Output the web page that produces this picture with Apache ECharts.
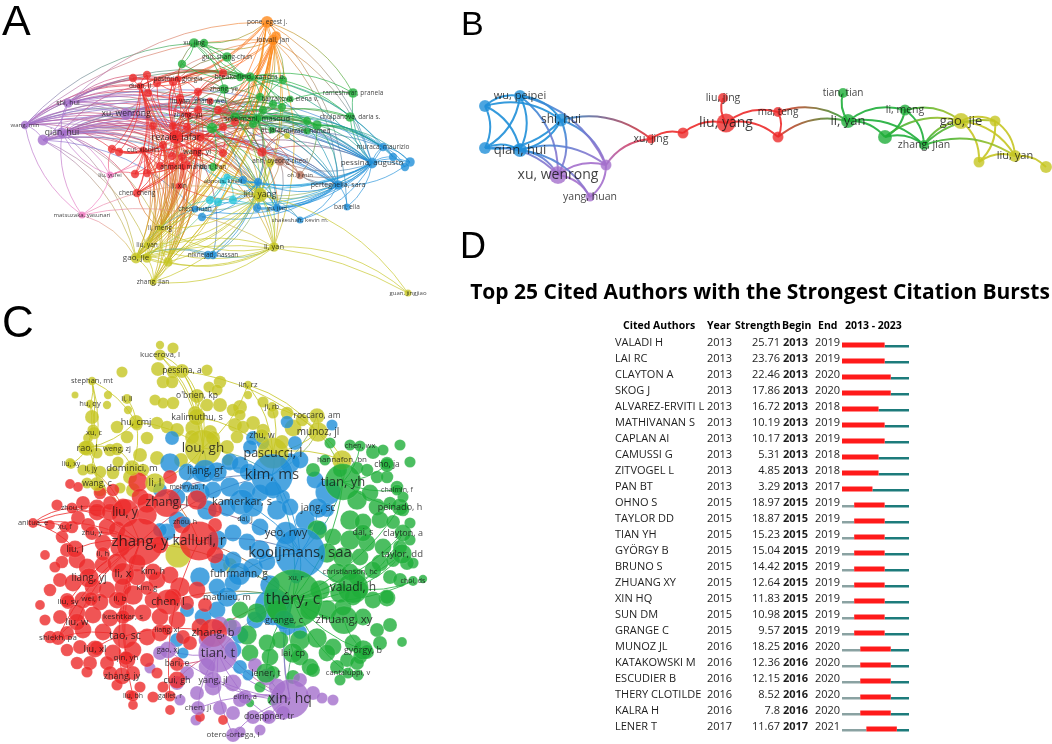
<!DOCTYPE html>
<html>
<head>
<meta charset="utf-8">
<title>Author networks and citation bursts</title>
<script src="https://cdn.jsdelivr.net/npm/echarts@6/dist/echarts.min.js"></script>
<style>
html, body { margin: 0; padding: 0; background: #fff; }
#main { width: 1052px; height: 744px; }
</style>
</head>
<body>
<div id="main"></div>
<script>
var myChart = echarts.init(document.getElementById('main'));

var clusterColors = {
    r: '#ec2a2a', g: '#1fae3a', b: '#1f8fd8', y: '#c5c522', p: '#a46fcc',
    o: '#ff8a1c', c: '#26c4d9', n: '#b87660', k: '#f07cc2'
};

// ---- panel A: co-authorship network  [name, x, y, size, cluster, labelSize]
var nodesA = [
    ['pone, egest j.', 267, 22, 10, 'o', 6.5], ['lotvall, jan', 273, 40, 9, 'o', 7], ['o1', 276, 36, 8, 'o', 0],
    ['xu, jing', 194, 43, 8, 'g', 6.5], ['g1', 204, 43, 7, 'g', 0], ['guo, shang-chun', 227, 57, 8, 'g', 6.5],
    ['g2', 182, 64, 7, 'g', 0], ['breakefield, xandra o.', 250, 77, 8, 'g', 7], ['g3', 240, 77, 7, 'g', 0],
    ['g4', 283, 80, 7, 'g', 0], ['zhang, ye', 224, 89, 8, 'g', 6.5], ['rameshwar, pranela', 353, 93, 8, 'g', 6.5],
    ['barrakova, elena v.', 290, 99, 6, 'g', 6.5], ['g5', 260, 97, 7, 'g', 0], ['g6', 273, 104, 7, 'g', 0],
    ['g7', 282, 107, 7, 'g', 0], ['g8', 263, 110, 7, 'g', 0], ['soleimani, masoud', 257, 119, 8, 'g', 7.5],
    ['g9', 235, 117, 8, 'g', 0], ['g10', 212, 128, 9, 'g', 0], ['g11', 253, 124, 7, 'g', 0],
    ['g12', 317, 125, 8, 'g', 0], ['g13', 307, 121, 7, 'g', 0], ['chulpanova, daria s.', 350, 117, 8, 'g', 6.5],
    ['ai, jafar', 272, 130, 6, 'g', 6.5], ['mirzaei, hamed', 307, 131, 6, 'g', 6.5], ['tian, tian', 213, 167, 7, 'g', 6.5],
    ['r1', 147, 75, 7, 'r', 0], ['r2', 157, 83, 7, 'r', 0], ['r3', 173, 82, 7, 'r', 0], ['r4', 133, 78, 7, 'r', 0],
    ['r5', 148, 93, 7, 'r', 0], ['r6', 223, 73, 7, 'r', 0], ['r7', 198, 92, 7, 'r', 0], ['r8', 180, 98, 7, 'r', 0],
    ['r9', 198, 110, 7, 'r', 0], ['r10', 218, 110, 7, 'r', 0], ['r11', 153, 126, 7, 'r', 0], ['r12', 173, 126, 7, 'r', 0],
    ['r13', 187, 127, 7, 'r', 0], ['r14', 200, 137, 8, 'r', 0], ['r15', 223, 127, 7, 'r', 0], ['r16', 235, 122, 7, 'r', 0],
    ['r17', 112, 149, 7, 'r', 0], ['r18', 119, 152, 7, 'r', 0], ['r19', 163, 145, 7, 'r', 0], ['r20', 172, 156, 7, 'r', 0],
    ['r21', 182, 157, 7, 'r', 0], ['r22', 223, 153, 7, 'r', 0], ['r23', 262, 152, 8, 'r', 0], ['r24', 160, 166, 7, 'r', 0],
    ['r25', 172, 166, 7, 'r', 0], ['r26', 187, 165, 7, 'r', 0], ['r27', 135, 174, 7, 'r', 0], ['r28', 147, 173, 7, 'r', 0],
    ['pastorin, giorgia', 178, 79, 6, 'r', 6.5], ['duan, li', 140, 86, 6, 'r', 6.5], ['liu,yan', 180, 101, 6, 'r', 6.5],
    ['zhang, wei', 210, 101, 6, 'r', 6.5], ['zhang, yu', 188, 115, 6, 'r', 6.5], ['rezaie, jafar', 176, 137, 12, 'r', 9],
    ['cui, xiaolin', 143, 150, 6, 'r', 6.5], ['wang, yi', 197, 152, 8, 'r', 7.5], ['ahmadi, mahdi', 183, 167, 6, 'r', 6.5],
    ['chen, cheng', 137, 193, 7, 'r', 6.5], ['li, xin', 179, 186, 6, 'r', 6.5],
    ['liu, yang', 260, 195, 12, 'y', 8.5], ['y1', 270, 163, 7, 'y', 0], ['li, meng', 160, 228, 6, 'y', 6.5],
    ['liu, yan', 147, 245, 6, 'y', 6.5], ['gao, jie', 136, 258, 9, 'y', 8], ['y2', 147, 258, 8, 'y', 0],
    ['y3', 168, 262, 8, 'y', 0], ['zhang, jian', 153, 282, 6, 'y', 6.5], ['li, yan', 274, 247, 8, 'y', 7.5],
    ['guan, jingjiao', 408, 293, 6, 'y', 6], ['y4', 287, 136, 5, 'y', 0],
    ['xu, wenrong', 126, 114, 10, 'p', 8.5], ['shi, hui', 68, 103, 8, 'p', 7], ['wang, min', 25, 125, 7, 'p', 6],
    ['qian, hui', 62, 133, 9, 'p', 8.5], ['p1', 43, 140, 9, 'p', 0],
    ['liu, yufei', 110, 175, 6, 'k', 6], ['matsuzaka, yasunari', 82, 215, 6, 'k', 6],
    ['ahn, byeong-cheol', 280, 161, 8, 'n', 6.5], ['oh, ji min', 300, 175, 7, 'n', 6],
    ['abnous, khalil', 223, 181, 6, 'c', 6], ['c1', 227, 177, 6, 'c', 0], ['c2', 210, 200, 7, 'c', 0],
    ['c3', 218, 202, 7, 'c', 0], ['c4', 233, 200, 7, 'c', 0],
    ['muraca, maurizio', 383, 147, 7, 'b', 6.5], ['pessina, augusto', 372, 163, 9, 'b', 8], ['b1', 410, 162, 8, 'b', 0],
    ['b2', 405, 167, 7, 'b', 0], ['b3', 393, 157, 7, 'b', 0], ['perteghella, sara', 338, 185, 8, 'b', 7],
    ['bari, elia', 347, 207, 6, 'b', 6.5], ['shakeshaft, kevin m.', 300, 220, 6, 'b', 6], ['gu, jian', 277, 208, 7, 'b', 6],
    ['b4', 258, 182, 7, 'b', 0], ['b5', 257, 208, 7, 'b', 0], ['b6', 243, 180, 7, 'b', 0],
    ['chen, huan', 195, 209, 6, 'b', 6.5], ['b8', 202, 217, 7, 'b', 0], ['niknejad, hassan', 213, 255, 7, 'b', 6.5],
    ['b7', 208, 255, 7, 'b', 0]
];

// hub -> co-authors
var hubsA = [
    ['wang, min', ['shi, hui', 'qian, hui', 'p1', 'xu, wenrong', 'duan, li', 'pastorin, giorgia', 'rezaie, jafar', 'zhang, yu', 'soleimani, masoud', 'xu, jing', 'wang, yi', 'liu, yang', 'pessina, augusto', 'perteghella, sara', 'lotvall, jan', 'r5', 'r11', 'r17', 'r19', 'g10', 'breakefield, xandra o.', 'muraca, maurizio']],
    ['qian, hui', ['shi, hui', 'p1', 'xu, wenrong', 'duan, li', 'rezaie, jafar', 'r12', 'r14', 'r20', 'r24', 'wang, yi', 'cui, xiaolin', 'chen, cheng', 'liu, yang', 'pessina, augusto', 'perteghella, sara', 'soleimani, masoud', 'g9', 'g10', 'ahn, byeong-cheol', 'oh, ji min', 'abnous, khalil', 'gao, jie', 'li, meng', 'liu, yufei']],
    ['shi, hui', ['xu, wenrong', 'p1', 'duan, li', 'pastorin, giorgia', 'r1', 'r3', 'r8', 'zhang, yu', 'rezaie, jafar', 'soleimani, masoud', 'breakefield, xandra o.', 'pone, egest j.', 'pessina, augusto', 'muraca, maurizio', 'r16', 'r23', 'liu, yang']],
    ['p1', ['xu, wenrong', 'rezaie, jafar', 'r13', 'r21', 'r25', 'wang, yi', 'liu, yang', 'perteghella, sara', 'gao, jie', 'liu, yan', 'chen, huan', 'abnous, khalil', 'y1']],
    ['xu, wenrong', ['rezaie, jafar', 'r9', 'r10', 'r15', 'zhang, yu', 'soleimani, masoud', 'pessina, augusto', 'perteghella, sara', 'liu, yang', 'gu, jian', 'b4', 'lotvall, jan', 'r22', 'g12']],
    ['lotvall, jan', ['pone, egest j.', 'o1', 'gao, jie', 'y2', 'y3', 'li, meng', 'liu, yan', 'zhang, jian', 'rezaie, jafar', 'duan, li', 'r4', 'chen, cheng', 'liu, yang', 'li, yan', 'pessina, augusto', 'perteghella, sara', 'liu, yufei', 'soleimani, masoud', 'g4', 'xu, jing']],
    ['pone, egest j.', ['o1', 'gao, jie', 'y2', 'li, meng', 'liu, yan', 'wang, min', 'duan, li', 'r2', 'r7', 'liu, yang', 'chen, cheng', 'pessina, augusto', 'bari, elia', 'rameshwar, pranela', 'g1']],
    ['o1', ['gao, jie', 'liu, yan', 'y3', 'rezaie, jafar', 'r28', 'chen, cheng', 'li, xin']],
    ['rezaie, jafar', ['r1', 'r2', 'r3', 'r6', 'r7', 'r8', 'r9', 'r11', 'r12', 'r13', 'r14', 'r19', 'r20', 'r21', 'r24', 'r25', 'r26', 'wang, yi', 'zhang, yu', 'duan, li', 'pastorin, giorgia', 'soleimani, masoud', 'g10', 'g5', 'g8', 'liu, yang', 'pessina, augusto', 'perteghella, sara', 'gao, jie', 'li, meng', 'liu, yan', 'y3', 'ahn, byeong-cheol', 'r23', 'g12', 'chulpanova, daria s.', 'li, yan']],
    ['wang, yi', ['r15', 'r16', 'r22', 'r23', 'r26', 'r27', 'r28', 'ahmadi, mahdi', 'liu, yang', 'gao, jie', 'y2', 'li, meng', 'zhang, jian', 'cui, xiaolin', 'g12', 'g13', 'muraca, maurizio', 'pessina, augusto', 'gu, jian', 'niknejad, hassan']],
    ['duan, li', ['r4', 'r5', 'r1', 'r17', 'r18', 'cui, xiaolin', 'chen, cheng', 'r27', 'r28', 'gao, jie', 'liu, yan', 'li, meng', 'y3', 'r6', 'g3', 'breakefield, xandra o.']],
    ['r10', ['g4', 'g6', 'g7', 'g11', 'g12', 'barrakova, elena v.', 'r23', 'ahn, byeong-cheol', 'oh, ji min', 'pessina, augusto', 'perteghella, sara', 'liu, yang', 'r22']],
    ['r14', ['r22', 'r23', 'g12', 'ai, jafar', 'mirzaei, hamed', 'liu, yang', 'li, yan', 'b4', 'gao, jie', 'zhang, jian', 'cui, xiaolin', 'r17']],
    ['r12', ['r1', 'r3', 'r8', 'r9', 'r13', 'r19', 'r20', 'r24', 'g9', 'g10', 'zhang, ye', 'gao, jie', 'y2', 'li, meng', 'liu, yang', 'soleimani, masoud']],
    ['r19', ['r11', 'r17', 'r18', 'r27', 'r28', 'cui, xiaolin', 'gao, jie', 'y2', 'y3', 'liu, yan', 'zhang, jian', 'li, meng', 'chen, cheng']],
    ['zhang, yu', ['r9', 'r13', 'r7', 'r3', 'r15', 'g9', 'g10', 'gao, jie', 'liu, yan', 'zhang, jian', 'liu, yang', 'pessina, augusto']],
    ['r7', ['r6', 'r2', 'r5', 'zhang, ye', 'g3', 'g5', 'breakefield, xandra o.', 'soleimani, masoud', 'li, meng', 'y3', 'gao, jie']],
    ['cui, xiaolin', ['r17', 'r18', 'r27', 'r28', 'chen, cheng', 'gao, jie', 'liu, yan', 'li, meng', 'zhang, jian', 'y2', 'y3', 'liu, yufei']],
    ['r23', ['g11', 'g12', 'g13', 'ahn, byeong-cheol', 'oh, ji min', 'liu, yang', 'y1', 'b4', 'li, yan', 'pessina, augusto', 'perteghella, sara']],
    ['pastorin, giorgia', ['r6', 'g2', 'guo, shang-chun', 'xu, jing', 'breakefield, xandra o.', 'g3', 'zhang, ye', 'r7', 'r8', 'gao, jie', 'y3']],
    ['r21', ['r24', 'r25', 'chen, cheng', 'li, xin', 'gao, jie', 'liu, yan', 'li, meng', 'y3', 'zhang, jian', 'liu, yang', 'ahmadi, mahdi']],
    ['soleimani, masoud', ['g5', 'g6', 'g7', 'g8', 'g9', 'g11', 'g12', 'g13', 'mirzaei, hamed', 'ai, jafar', 'breakefield, xandra o.', 'g4', 'barrakova, elena v.', 'pessina, augusto', 'muraca, maurizio', 'perteghella, sara', 'chulpanova, daria s.', 'rameshwar, pranela', 'liu, yang', 'b4', 'r23']],
    ['breakefield, xandra o.', ['g3', 'g4', 'guo, shang-chun', 'xu, jing', 'g1', 'g2', 'zhang, ye', 'g5', 'g6', 'g7', 'pessina, augusto', 'muraca, maurizio', 'rameshwar, pranela', 'chulpanova, daria s.', 'b3', 'perteghella, sara']],
    ['g9', ['g5', 'g8', 'g11', 'r16', 'zhang, ye', 'liu, yang', 'pessina, augusto', 'perteghella, sara', 'muraca, maurizio', 'li, yan', 'gu, jian']],
    ['g10', ['tian, tian', 'zhang, ye', 'r16', 'liu, yang', 'gu, jian', 'b6', 'pessina, augusto', 'g12', 'li, yan']],
    ['xu, jing', ['g1', 'guo, shang-chun', 'g2', 'zhang, ye', 'g3', 'r6']],
    ['g12', ['g13', 'mirzaei, hamed', 'pessina, augusto', 'b1', 'b2', 'b3', 'perteghella, sara', 'muraca, maurizio', 'oh, ji min']],
    ['pessina, augusto', ['muraca, maurizio', 'b1', 'b2', 'b3', 'perteghella, sara', 'bari, elia', 'gu, jian', 'b4', 'b5', 'b6', 'liu, yang', 'chulpanova, daria s.', 'rameshwar, pranela', 'shakeshaft, kevin m.', 'oh, ji min', 'ahn, byeong-cheol', 'abnous, khalil', 'c1', 'c3']],
    ['muraca, maurizio', ['b1', 'b2', 'b3', 'perteghella, sara']],
    ['b1', ['b2', 'b3', 'perteghella, sara']],
    ['perteghella, sara', ['bari, elia', 'b4', 'b5', 'gu, jian', 'liu, yang', 'ahn, byeong-cheol', 'oh, ji min', 'shakeshaft, kevin m.', 'c4', 'chen, huan', 'b8']],
    ['b4', ['b5', 'b6', 'gu, jian', 'liu, yang', 'c1', 'c4', 'chen, huan', 'b8', 'niknejad, hassan', 'b7']],
    ['gu, jian', ['b5', 'shakeshaft, kevin m.', 'liu, yang', 'b6']],
    ['c1', ['abnous, khalil', 'c2', 'c3', 'c4', 'liu, yang', 'b6', 'gao, jie', 'li, meng']],
    ['c3', ['c2', 'c4', 'chen, huan', 'liu, yang']],
    ['liu, yang', ['y1', 'li, yan', 'gao, jie', 'y2', 'y3', 'li, meng', 'liu, yan', 'zhang, jian', 'niknejad, hassan', 'shakeshaft, kevin m.', 'guan, jingjiao', 'chen, huan', 'b5', 'abnous, khalil', 'ahmadi, mahdi', 'li, xin']],
    ['gao, jie', ['y2', 'y3', 'li, meng', 'liu, yan', 'zhang, jian', 'li, yan', 'niknejad, hassan', 'b7', 'chen, huan', 'guan, jingjiao']],
    ['li, yan', ['guan, jingjiao', 'y3', 'zhang, jian', 'liu, yan', 'li, meng', 'niknejad, hassan', 'y2']],
    ['y3', ['zhang, jian', 'li, meng', 'y2']],
    ['y2', ['zhang, jian', 'liu, yan', 'li, meng']],
    ['li, meng', ['liu, yan', 'zhang, jian', 'chen, cheng', 'c2']],
    ['liu, yufei', ['matsuzaka, yasunari', 'qian, hui', 'r27', 'r17']],
    ['matsuzaka, yasunari', ['wang, min', 'qian, hui', 'gao, jie', 'li, yan', 'liu, yang']],
    ['ahn, byeong-cheol', ['oh, ji min', 'liu, yang', 'y1', 'gu, jian']]
];

// ---- panel B: collaboration chain
var nodesB = [
    ['bb1', 485, 106, 12, 'b', 0], ['wu, peipei', 520, 96, 12, 'b', 11], ['shi, hui', 561, 120, 13, 'b', 12],
    ['bb2', 485, 148, 12, 'b', 0], ['qian, hui', 520, 150, 14, 'b', 13],
    ['xu, wenrong', 558, 175, 18, 'p', 14], ['bp1', 606, 165, 11, 'p', 0], ['yang, huan', 590, 197, 9, 'p', 10.5],
    ['xu, jing', 651, 139, 9, 'r', 10.5], ['br1', 683, 133, 11, 'r', 0], ['liu, jing', 723, 98, 10, 'r', 10.5],
    ['liu, yang', 726, 123, 19, 'r', 14], ['ma, teng', 778, 112, 10, 'r', 10], ['br2', 778, 137, 11, 'r', 0],
    ['tian, tian', 843, 93, 10, 'g', 10], ['li, yan', 848, 121, 14, 'g', 13], ['li, meng', 905, 110, 11, 'g', 10.5],
    ['bg1', 885, 137, 14, 'g', 0], ['zhang, jian', 924, 145, 10, 'g', 10.5],
    ['gao, jie', 961, 121, 16, 'y', 13], ['by1', 995, 121, 11, 'y', 0], ['by2', 979, 162, 11, 'y', 0],
    ['liu, yan', 1015, 156, 12, 'y', 11], ['by3', 1046, 167, 12, 'y', 0]
];
var linksB = [
    ['bb1', 'wu, peipei'], ['bb1', 'shi, hui'], ['bb1', 'bb2'], ['bb1', 'qian, hui'], ['wu, peipei', 'shi, hui'],
    ['wu, peipei', 'bb2'], ['wu, peipei', 'qian, hui'], ['shi, hui', 'bb2'], ['shi, hui', 'qian, hui'], ['bb2', 'qian, hui'],
    ['wu, peipei', 'xu, wenrong'], ['shi, hui', 'xu, wenrong'], ['qian, hui', 'xu, wenrong'], ['bb2', 'xu, wenrong'],
    ['shi, hui', 'bp1'], ['qian, hui', 'bp1'], ['wu, peipei', 'bp1'], ['xu, wenrong', 'bp1'], ['xu, wenrong', 'yang, huan'],
    ['bp1', 'yang, huan'], ['qian, hui', 'yang, huan'], ['shi, hui', 'xu, jing'], ['bp1', 'xu, jing'],
    ['xu, jing', 'br1'], ['br1', 'liu, yang'], ['liu, yang', 'liu, jing'], ['liu, yang', 'ma, teng'], ['liu, yang', 'br2'],
    ['ma, teng', 'br2'], ['ma, teng', 'li, yan'], ['br2', 'li, yan'], ['li, yan', 'tian, tian'], ['li, yan', 'li, meng'],
    ['li, yan', 'bg1'], ['li, yan', 'zhang, jian'], ['li, meng', 'bg1'], ['li, meng', 'zhang, jian'], ['bg1', 'zhang, jian'],
    ['li, meng', 'gao, jie'], ['zhang, jian', 'gao, jie'], ['bg1', 'gao, jie'], ['gao, jie', 'by1'], ['gao, jie', 'by2'],
    ['gao, jie', 'liu, yan'], ['by1', 'by2'], ['by1', 'liu, yan'], ['by2', 'liu, yan'], ['liu, yan', 'by3'],
    ['zhang, jian', 'liu, yan'], ['zhang, jian', 'by1']
];

// ---- panel C: co-citation network, labelled authors [name, x, y, size, cluster, labelSize]
var authorsC = [
    ['kucerova, l', 160, 355, 8, 'y', 8], ['pessina, a', 182, 371, 10, 'y', 8.5], ['stephan, mt', 92, 381, 6, 'y', 7.5],
    ['lin, rz', 248, 385, 6, 'y', 7.5], ["o'brien, kp", 197, 396, 10, 'y', 8.5], ['li, ll', 127, 399, 7, 'y', 7.5],
    ['hu, qy', 90, 404, 6, 'y', 7.5], ['ji, rb', 272, 407, 7, 'y', 7], ['kalimuthu, s', 197, 417, 12, 'y', 9],
    ['hu, cmj', 136, 422, 10, 'y', 9], ['roccaro, am', 317, 416, 11, 'y', 8.5], ['xu, c', 94, 433, 9, 'y', 7.5],
    ['munoz, jl', 318, 432, 14, 'y', 10], ['zhu, w', 262, 436, 10, 'y', 8.5], ['rao, l', 87, 448, 11, 'y', 9],
    ['weng, zj', 117, 449, 9, 'y', 7.5], ['lou, gh', 203, 448, 26, 'y', 13.5], ['pascucci, l', 273, 453, 22, 'y', 12.5],
    ['hannafon, bn', 342, 460, 14, 'y', 8], ['liu, xy', 71, 464, 7, 'y', 7], ['li, jy', 91, 469, 8, 'y', 7],
    ['dominici, m', 132, 468, 11, 'y', 9.5], ['wang, c', 97, 484, 10, 'y', 8.5], ['li, l', 155, 483, 14, 'y', 10],
    ['liang, gf', 205, 471, 16, 'b', 10], ['kim, ms', 272, 475, 30, 'b', 15], ['mehryab, f', 187, 487, 8, 'b', 7],
    ['kamerkar, s', 242, 502, 18, 'b', 11], ['jang, sc', 318, 508, 14, 'b', 10], ['dai, j', 245, 519, 8, 'b', 7],
    ['zhou, h', 185, 522, 8, 'b', 7], ['yeo, rwy', 286, 533, 16, 'b', 11], ['kooijmans, saa', 300, 553, 36, 'b', 15],
    ['fuhrmann, g', 239, 574, 16, 'b', 10], ['xu, r', 296, 578, 8, 'b', 7.5], ['mathieu, m', 227, 597, 14, 'b', 9],
    ['grange, c', 284, 620, 14, 'b', 9],
    ['chen, wx', 360, 446, 8, 'g', 7.5], ['cho, ja', 387, 465, 10, 'g', 8.5], ['tian, yh', 343, 482, 26, 'g', 13],
    ['chalmin, f', 397, 490, 8, 'g', 7], ['peinado, h', 400, 507, 12, 'g', 9], ['dai, s', 363, 533, 12, 'g', 8.5],
    ['clayton, a', 403, 533, 12, 'g', 9], ['taylor, dd', 402, 554, 14, 'g', 9.5], ['christianson, hc', 350, 572, 12, 'g', 7.5],
    ['choi, ds', 413, 581, 7, 'g', 7], ['valadi, h', 353, 588, 22, 'g', 12], ['théry, c', 293, 599, 42, 'g', 16],
    ['zhuang, xy', 344, 620, 20, 'g', 11.5], ['lai, cp', 293, 653, 14, 'g', 9], ['györgy, b', 363, 650, 14, 'g', 9],
    ['cantaluppi, v', 348, 673, 8, 'g', 7.5], ['lener, t', 266, 673, 14, 'g', 9],
    ['zhou, t', 72, 508, 8, 'r', 7], ['liu, y', 125, 513, 20, 'r', 12], ['anitua, e', 33, 523, 7, 'r', 7.5],
    ['xu, f', 65, 527, 8, 'r', 7], ['zhu, y', 92, 533, 10, 'r', 7.5], ['zhang, l', 167, 503, 20, 'r', 12],
    ['zhang, y', 140, 542, 34, 'r', 15], ['kalluri, r', 199, 541, 28, 'r', 14], ['liu, l', 75, 549, 12, 'r', 9],
    ['li, h', 103, 554, 10, 'r', 7.5], ['liang, yj', 89, 578, 14, 'r', 10], ['li, x', 123, 574, 16, 'r', 11],
    ['kim, h', 153, 572, 12, 'r', 8.5], ['kim, g', 147, 588, 10, 'r', 7.5], ['liu, sy', 68, 602, 10, 'r', 8],
    ['wei, f', 91, 599, 10, 'r', 8], ['li, b', 120, 599, 10, 'r', 8], ['chen, l', 168, 602, 18, 'r', 11],
    ['keshtkar, s', 123, 617, 10, 'r', 8], ['liu, w', 77, 622, 12, 'r', 9.5], ['liang, xl', 167, 630, 8, 'r', 7],
    ['zhang, b', 213, 633, 20, 'r', 11], ['tao, sc', 125, 636, 18, 'r', 10.5], ['shiekh, pa', 58, 638, 10, 'r', 8],
    ['liu, xl', 95, 649, 12, 'r', 9.5], ['qin, yh', 126, 658, 10, 'r', 8], ['bari, e', 177, 664, 10, 'r', 8.5],
    ['zhang, jy', 122, 676, 12, 'r', 9], ['cui, gh', 177, 680, 12, 'r', 9], ['liu, bh', 133, 696, 8, 'r', 7],
    ['gallet, r', 170, 696, 8, 'r', 7],
    ['gao, xj', 168, 650, 12, 'p', 7.5], ['tian, t', 218, 653, 28, 'p', 13], ['yang, jl', 213, 680, 12, 'p', 9],
    ['eirin, a', 245, 697, 10, 'p', 7.5], ['xin, hq', 290, 699, 28, 'p', 14], ['chen, jl', 198, 708, 10, 'p', 8],
    ['doeppner, tr', 269, 717, 10, 'p', 8.5], ['otero-ortega, l', 233, 735, 10, 'p', 8]
];

// unlabelled cited authors [x, y, size, cluster]
var dotsC = [
    [173,348,8,'y'],[122,372,8,'y'],[158,369,10,'y'],[173,372,9,'y'],[207,370,8,'y'],[163,382,9,'y'],[172,382,9,'y'],
    [220,382,9,'y'],[209,387,8,'y'],[217,390,8,'y'],[155,400,8,'y'],[163,403,8,'y'],[173,403,9,'y'],[207,405,9,'y'],
    [220,405,10,'y'],[240,407,10,'y'],[263,402,8,'y'],[273,413,8,'y'],[92,417,10,'y'],[107,405,6,'y'],[195,413,10,'y'],
    [233,410,9,'y'],[240,415,8,'y'],[117,427,9,'y'],[137,425,8,'y'],[157,423,9,'y'],[167,427,9,'y'],[177,430,10,'y'],
    [193,428,11,'y'],[210,432,10,'y'],[235,425,10,'y'],[243,427,9,'y'],[253,423,10,'y'],[263,430,9,'y'],[287,413,9,'y'],
    [293,428,12,'y'],[93,430,8,'y'],[88,438,7,'y'],[127,437,9,'y'],[147,438,9,'y'],[192,437,10,'y'],[213,438,10,'y'],
    [85,448,10,'y'],[97,453,8,'y'],[110,450,9,'y'],[118,462,8,'y'],[140,455,10,'y'],[157,458,10,'y'],[227,447,10,'y'],
    [237,437,9,'y'],[70,463,7,'y'],[83,470,8,'y'],[100,472,9,'y'],[113,473,9,'y'],[130,477,10,'y'],[143,470,9,'y'],
    [133,490,10,'y'],[120,488,8,'y'],[100,490,9,'y'],[87,483,8,'y'],[230,565,10,'y'],[181,460,10,'y'],
    [228,460,8,'y'],[160,345,6,'y'],[108,395,6,'y'],[75,395,5,'y'],[248,395,6,'y'],[302,420,9,'y'],[282,442,10,'y'],[128,410,6,'y'],
    [172,438,10,'b'],[253,438,10,'b'],[263,443,9,'b'],[250,447,10,'b'],[287,422,9,'b'],[332,425,8,'b'],[295,443,10,'b'],
    [170,463,14,'b'],[187,472,12,'b'],[200,473,12,'b'],[217,472,14,'b'],[230,462,12,'b'],[240,465,12,'b'],[248,472,12,'b'],
    [290,463,14,'b'],[300,460,12,'b'],[200,493,14,'b'],[213,490,12,'b'],[230,487,14,'b'],[247,490,12,'b'],[260,493,12,'b'],
    [273,490,12,'b'],[283,497,10,'b'],[177,497,12,'b'],[160,490,10,'b'],[207,510,14,'b'],[227,508,12,'b'],[253,507,14,'b'],
    [277,510,14,'b'],[290,507,12,'b'],[328,492,18,'b'],[327,510,10,'b'],[167,532,12,'b'],[177,520,12,'b'],[217,540,14,'b'],
    [233,533,12,'b'],[247,542,12,'b'],[260,527,12,'b'],[220,563,14,'b'],[233,560,12,'b'],[253,568,14,'b'],[267,562,12,'b'],
    [200,577,14,'b'],[217,587,12,'b'],[233,583,12,'b'],[273,607,26,'b'],[187,610,10,'b'],[203,617,12,'b'],[217,610,12,'b'],
    [287,627,12,'b'],[300,632,10,'b'],[233,650,12,'b'],[240,667,10,'b'],[248,675,8,'b'],[177,640,10,'b'],[183,653,8,'b'],
    [160,530,10,'b'],[315,480,12,'b'],[305,520,14,'b'],[320,528,10,'b'],[260,550,14,'b'],[270,585,14,'b'],[255,620,12,'b'],
    [240,635,12,'b'],
    [330,443,8,'g'],[350,445,8,'g'],[373,452,10,'g'],[383,450,8,'g'],[400,445,8,'g'],[340,470,10,'g'],[357,468,9,'g'],
    [367,470,9,'g'],[387,463,9,'g'],[410,462,8,'g'],[377,477,9,'g'],[387,477,9,'g'],[397,487,9,'g'],[403,497,8,'g'],
    [357,500,14,'g'],[370,493,12,'g'],[377,507,12,'g'],[390,503,9,'g'],[403,510,9,'g'],[350,520,14,'g'],[363,522,12,'g'],
    [380,520,12,'g'],[393,522,10,'g'],[410,523,8,'g'],[317,530,14,'g'],[333,537,12,'g'],[350,540,14,'g'],[367,543,12,'g'],
    [383,547,12,'g'],[400,547,10,'g'],[410,540,8,'g'],[413,563,8,'g'],[327,553,14,'g'],[343,557,14,'g'],[360,557,12,'g'],
    [380,563,12,'g'],[393,560,10,'g'],[407,563,10,'g'],[337,573,14,'g'],[357,577,12,'g'],[373,570,12,'g'],[390,577,10,'g'],
    [320,590,14,'g'],[340,593,14,'g'],[360,590,12,'g'],[387,598,12,'g'],[400,580,10,'g'],[423,579,6,'g'],[257,613,14,'g'],
    [277,610,14,'g'],[310,610,14,'g'],[327,610,14,'g'],[343,607,12,'g'],[353,597,12,'g'],[373,600,12,'g'],[387,597,10,'g'],
    [363,617,12,'g'],[377,630,10,'g'],[390,625,10,'g'],[402,642,7,'g'],[247,635,14,'g'],[267,643,12,'g'],[280,640,12,'g'],
    [300,640,14,'g'],[317,638,14,'g'],[333,647,12,'g'],[353,643,12,'g'],[367,652,10,'g'],[380,643,10,'g'],[250,653,12,'g'],
    [270,657,12,'g'],[300,657,12,'g'],[327,653,12,'g'],[347,660,10,'g'],[360,657,10,'g'],[310,667,12,'g'],[337,667,10,'g'],
    [357,663,10,'g'],[358,675,8,'g'],[293,677,10,'g'],[313,670,10,'g'],[340,680,8,'g'],[273,673,10,'g'],[260,687,8,'g'],
    [250,703,6,'g'],[273,700,8,'g'],[313,470,10,'g'],[325,460,8,'g'],[240,610,12,'g'],[230,625,10,'g'],
    [207,667,12,'p'],[187,673,10,'p'],[177,683,10,'p'],[160,653,10,'p'],[233,628,12,'p'],[220,625,12,'p'],[197,693,10,'p'],
    [213,687,12,'p'],[233,683,12,'p'],[240,700,10,'p'],[267,677,12,'p'],[277,687,12,'p'],[313,693,10,'p'],[322,698,8,'p'],
    [333,700,8,'p'],[220,708,10,'p'],[233,713,10,'p'],[253,717,10,'p'],[267,717,8,'p'],[283,713,10,'p'],[240,732,8,'p'],
    [260,730,8,'p'],[180,700,8,'p'],[207,640,12,'p'],[150,668,8,'p'],[255,665,10,'p'],[300,680,10,'p'],[196,720,8,'p'],
    [70,484,7,'r'],[78,487,7,'r'],[100,493,9,'r'],[113,490,9,'r'],[138,482,14,'r'],[140,497,12,'r'],[170,477,10,'r'],
    [83,503,10,'r'],[97,508,12,'r'],[110,503,10,'r'],[123,507,12,'r'],[147,503,14,'r'],[197,500,14,'r'],[50,525,7,'r'],
    [62,537,9,'r'],[72,527,9,'r'],[78,518,10,'r'],[88,525,10,'r'],[97,512,12,'r'],[110,512,12,'r'],[147,515,14,'r'],
    [107,527,12,'r'],[117,530,12,'r'],[120,547,14,'r'],[103,543,12,'r'],[67,550,10,'r'],[62,562,9,'r'],[77,560,12,'r'],
    [87,567,12,'r'],[103,565,12,'r'],[117,563,14,'r'],[137,563,12,'r'],[50,590,9,'r'],[60,580,10,'r'],[73,583,12,'r'],
    [93,587,12,'r'],[107,590,12,'r'],[123,587,12,'r'],[137,577,12,'r'],[157,580,12,'r'],[170,575,12,'r'],[180,587,14,'r'],
    [197,590,12,'r'],[67,600,10,'r'],[83,600,12,'r'],[100,602,12,'r'],[117,600,12,'r'],[133,595,14,'r'],[153,600,12,'r'],
    [173,597,12,'r'],[187,603,10,'r'],[60,617,10,'r'],[77,613,12,'r'],[93,615,12,'r'],[110,618,12,'r'],[127,613,12,'r'],
    [143,613,12,'r'],[160,617,12,'r'],[177,620,12,'r'],[200,627,12,'r'],[50,637,9,'r'],[67,633,10,'r'],[83,630,12,'r'],
    [103,632,12,'r'],[147,637,12,'r'],[160,633,12,'r'],[183,637,10,'r'],[67,650,9,'r'],[80,647,10,'r'],[97,648,10,'r'],
    [113,653,12,'r'],[133,650,12,'r'],[77,663,9,'r'],[90,663,10,'r'],[107,663,10,'r'],[127,660,12,'r'],[147,660,10,'r'],
    [87,672,8,'r'],[110,673,10,'r'],[133,673,10,'r'],[157,673,8,'r'],[117,685,8,'r'],[140,687,8,'r'],[163,687,8,'r'],
    [130,695,7,'r'],[133,705,7,'r'],[153,697,8,'r'],[170,710,7,'r'],[200,717,7,'r'],[223,720,7,'r'],[190,643,10,'r'],
    [55,567,8,'r'],[45,555,7,'r'],[160,545,12,'r'],[182,525,12,'r'],[215,525,10,'r'],[215,555,12,'r'],[205,605,10,'r'],
    [40,605,7,'r'],[45,620,8,'r'],[57,505,8,'r'],[215,510,10,'r'],
    [178,555,18,'y']
];

var linksC = [
    ['kucerova, l', 'pessina, a'], ['kucerova, l', 'lou, gh'], ['kucerova, l', 'kalimuthu, s'], ['pessina, a', 'lou, gh'],
    ['pessina, a', "o'brien, kp"], ['pessina, a', 'kalimuthu, s'], ['pessina, a', 'munoz, jl'], ['stephan, mt', 'hu, qy'],
    ['stephan, mt', 'rao, l'], ['stephan, mt', 'hu, cmj'], ['stephan, mt', 'li, jy'], ['lin, rz', 'munoz, jl'],
    ['lin, rz', 'lou, gh'], ['lin, rz', 'pascucci, l'], ["o'brien, kp", 'kalimuthu, s'], ["o'brien, kp", 'lou, gh'],
    ['li, ll', 'hu, cmj'], ['hu, qy', 'rao, l'], ['hu, qy', 'xu, c'], ['ji, rb', 'munoz, jl'], ['ji, rb', 'pascucci, l'],
    ['kalimuthu, s', 'lou, gh'], ['kalimuthu, s', 'pascucci, l'], ['hu, cmj', 'lou, gh'], ['hu, cmj', 'rao, l'],
    ['hu, cmj', 'dominici, m'], ['roccaro, am', 'munoz, jl'], ['roccaro, am', 'kim, ms'], ['munoz, jl', 'pascucci, l'],
    ['munoz, jl', 'hannafon, bn'], ['munoz, jl', 'kim, ms'], ['munoz, jl', 'tian, yh'], ['zhu, w', 'pascucci, l'],
    ['rao, l', 'weng, zj'], ['rao, l', 'wang, c'], ['rao, l', 'liu, xy'], ['weng, zj', 'dominici, m'], ['lou, gh', 'li, l'],
    ['lou, gh', 'liang, gf'], ['lou, gh', 'kim, ms'], ['lou, gh', 'zhang, l'], ['pascucci, l', 'kim, ms'],
    ['pascucci, l', 'hannafon, bn'], ['hannafon, bn', 'tian, yh'], ['dominici, m', 'li, l'], ['wang, c', 'zhang, y'],
    ['wang, c', 'liu, y'], ['li, jy', 'liu, y'],
    ['anitua, e', 'liu, y'], ['anitua, e', 'zhang, y'], ['anitua, e', 'zhou, t'], ['anitua, e', 'xu, f'], ['anitua, e', 'liu, l'],
    ['zhou, t', 'liu, y'], ['zhou, t', 'zhang, y'], ['zhu, y', 'zhang, y'], ['liu, l', 'zhang, y'], ['liang, yj', 'zhang, y'],
    ['shiekh, pa', 'liu, w'], ['shiekh, pa', 'zhang, y'], ['shiekh, pa', 'tao, sc'], ['liu, sy', 'zhang, y'], ['liu, w', 'zhang, y'],
    ['liu, xl', 'tao, sc'], ['zhang, jy', 'zhang, y'], ['liu, bh', 'zhang, y'], ['gallet, r', 'kalluri, r'],
    ['zhang, y', 'kalluri, r'], ['zhang, y', 'kim, ms'], ['zhang, y', 'théry, c'], ['kalluri, r', 'théry, c'],
    ['kalluri, r', 'kooijmans, saa'], ['liu, y', 'kim, ms'], ['chen, l', 'théry, c'], ['zhang, b', 'théry, c'],
    ['tao, sc', 'zhang, b'], ['qin, yh', 'zhang, y'], ['zhang, l', 'kooijmans, saa'], ['li, l', 'kalluri, r'],
    ['otero-ortega, l', 'xin, hq'], ['otero-ortega, l', 'tian, t'], ['doeppner, tr', 'xin, hq'], ['doeppner, tr', 'tian, t'],
    ['chen, jl', 'xin, hq'], ['chen, jl', 'tian, t'], ['eirin, a', 'xin, hq'], ['xin, hq', 'tian, t'], ['xin, hq', 'théry, c'],
    ['xin, hq', 'lai, cp'], ['xin, hq', 'lener, t'], ['xin, hq', 'yang, jl'], ['xin, hq', 'gao, xj'], ['tian, t', 'gao, xj'],
    ['tian, t', 'bari, e'], ['tian, t', 'théry, c'], ['yang, jl', 'tian, t'], ['cui, gh', 'tian, t'], ['xin, hq', 'zhang, b'],
    ['xin, hq', 'kooijmans, saa'],
    ['choi, ds', 'valadi, h'], ['choi, ds', 'théry, c'], ['cantaluppi, v', 'györgy, b'], ['cantaluppi, v', 'théry, c'],
    ['györgy, b', 'zhuang, xy'], ['györgy, b', 'théry, c'], ['taylor, dd', 'valadi, h'], ['taylor, dd', 'théry, c'],
    ['clayton, a', 'théry, c'], ['clayton, a', 'valadi, h'], ['peinado, h', 'théry, c'], ['peinado, h', 'tian, yh'],
    ['chalmin, f', 'tian, yh'], ['cho, ja', 'tian, yh'], ['chen, wx', 'tian, yh'], ['christianson, hc', 'théry, c'],
    ['valadi, h', 'théry, c'], ['zhuang, xy', 'théry, c'], ['lai, cp', 'théry, c'], ['lener, t', 'théry, c'],
    ['tian, yh', 'kooijmans, saa'], ['tian, yh', 'théry, c'], ['valadi, h', 'kooijmans, saa'],
    ['kim, ms', 'kooijmans, saa'], ['kim, ms', 'théry, c'], ['kooijmans, saa', 'théry, c'], ['yeo, rwy', 'kooijmans, saa'],
    ['kamerkar, s', 'kooijmans, saa'], ['jang, sc', 'kooijmans, saa'], ['fuhrmann, g', 'kooijmans, saa'],
    ['mathieu, m', 'théry, c'], ['grange, c', 'théry, c'], ['liang, gf', 'kim, ms']
];

// ---- panel D: citation bursts
var burstTitle = 'Top 25 Cited Authors with the Strongest Citation Bursts';
var tableHeader = ['Cited Authors', 'Year', 'Strength', 'Begin', 'End', '2013 - 2023'];
var citedAuthors = ['VALADI H', 'LAI RC', 'CLAYTON A', 'SKOG J', 'ALVAREZ-ERVITI L', 'MATHIVANAN S', 'CAPLAN AI',
    'CAMUSSI G', 'ZITVOGEL L', 'PAN BT', 'OHNO S', 'TAYLOR DD', 'TIAN YH', 'GYÖRGY B', 'BRUNO S', 'ZHUANG XY',
    'XIN HQ', 'SUN DM', 'GRANGE C', 'MUNOZ JL', 'KATAKOWSKI M', 'ESCUDIER B', 'THERY CLOTILDE', 'KALRA H', 'LENER T'];
var firstYear = [2013, 2013, 2013, 2013, 2013, 2013, 2013, 2013, 2013, 2013, 2015, 2015, 2015, 2015, 2015, 2015,
    2015, 2015, 2015, 2016, 2016, 2016, 2016, 2016, 2017];
var burstStrength = [25.71, 23.76, 22.46, 17.86, 16.72, 10.19, 10.17, 5.31, 4.85, 3.29, 18.97, 18.87, 15.23, 15.04,
    14.42, 12.64, 11.83, 10.98, 9.57, 18.25, 12.36, 12.15, 8.52, 7.8, 11.67];
var burstBegin = [2013, 2013, 2013, 2013, 2013, 2013, 2013, 2013, 2013, 2013, 2015, 2015, 2015, 2015, 2015, 2015,
    2015, 2015, 2015, 2016, 2016, 2016, 2016, 2016, 2017];
var burstEnd = [2019, 2019, 2020, 2020, 2018, 2019, 2019, 2018, 2018, 2017, 2019, 2019, 2019, 2019, 2019, 2019,
    2019, 2019, 2019, 2020, 2020, 2020, 2020, 2020, 2021];
var spanStart = 2013, spanEnd = 2023;

var labelFont = 'Open Sans';
var tableFont = 'Open Sans';
var sizeScaleA = 1.2;
var sizeScaleC = 1.4;

function toPairs(hubs) {
    var pairs = [];
    hubs.forEach(function (h) {
        h[1].forEach(function (t) { pairs.push([h[0], t]); });
    });
    return pairs;
}

// edge coloured from source cluster to target cluster, like VOSviewer
function edgeColor(a, b) {
    var ca = clusterColors[a[4]], cb = clusterColors[b[4]];
    if (ca === cb) return ca;
    var sx = a[1] <= b[1] ? 0 : 1, sy = a[2] <= b[2] ? 0 : 1;
    return new echarts.graphic.LinearGradient(sx, sy, 1 - sx, 1 - sy, [
        { offset: 0, color: ca }, { offset: 1, color: cb }
    ]);
}

function edgeSeries(nodes, pairs, gi, width, opacity, curveness) {
    var byName = {};
    nodes.forEach(function (n) { byName[n[0]] = n; });
    return {
        type: 'graph', coordinateSystem: 'cartesian2d', xAxisIndex: gi, yAxisIndex: gi,
        layout: 'none', silent: true, z: 1, symbolSize: 0, label: { show: false },
        data: nodes.map(function (n) {
            return { name: n[0], value: [n[1], n[2]] };
        }),
        links: pairs.filter(function (p) { return byName[p[0]] && byName[p[1]]; }).map(function (p) {
            return { source: p[0], target: p[1], lineStyle: { color: edgeColor(byName[p[0]], byName[p[1]]) } };
        }),
        lineStyle: { width: width, opacity: opacity, curveness: curveness }
    };
}

function nodeSeries(rows, gi, z, scale) {
    return {
        type: 'scatter', xAxisIndex: gi, yAxisIndex: gi, silent: true, z: z,
        data: rows.map(function (n) {
            return {
                value: [n[0], n[1]], symbolSize: n[2] * scale,
                itemStyle: { color: clusterColors[n[3]], borderColor: 'rgba(255,255,255,0.3)', borderWidth: 0.5 }
            };
        })
    };
}

function labelSeries(nodes, gi) {
    return {
        type: 'scatter', xAxisIndex: gi, yAxisIndex: gi, silent: true, z: 6, symbolSize: 1,
        itemStyle: { color: 'rgba(0,0,0,0)' },
        label: { show: true, position: 'inside', formatter: '{b}', color: '#111', fontFamily: labelFont },
        data: nodes.filter(function (n) { return n[5] > 0; }).map(function (n) {
            return { name: n[0], value: [n[1], n[2]], label: { fontSize: n[5] } };
        })
    };
}

function asDots(nodes) {
    return nodes.map(function (n) { return [n[1], n[2], n[3], n[4]]; });
}

function renderBurst(params, api) {
    var i = params.dataIndex;
    var a = api.coord([spanStart, i]);
    var y = a[1];
    var xb = api.coord([burstBegin[i], i])[0];
    var xe = api.coord([burstEnd[i] + 1, i])[0];
    var x1 = api.coord([spanEnd + 1, i])[0];
    function txt(x, s, align, bold) {
        return {
            type: 'text',
            style: {
                x: x, y: y, text: s, align: align, verticalAlign: 'middle',
                textAlign: align, textVerticalAlign: 'middle',
                font: (bold ? 'bold ' : '') + '11px "' + tableFont + '"', fill: '#1e1e1e'
            }
        };
    }
    return {
        type: 'group',
        children: [
            { type: 'rect', shape: { x: a[0], y: y + 2, width: xb - a[0], height: 2.5 }, style: { fill: '#8aa2a2' } },
            { type: 'rect', shape: { x: xe, y: y + 2, width: x1 - xe, height: 2.5 }, style: { fill: '#1d7b7b' } },
            { type: 'rect', shape: { x: xb, y: y - 0.5, width: xe - xb, height: 5 }, style: { fill: '#ff1a1a' } },
            txt(615, citedAuthors[i], 'left'),
            txt(707, String(firstYear[i]), 'left'),
            txt(780, String(burstStrength[i]), 'right'),
            txt(783, String(burstBegin[i]), 'left', true),
            txt(815, String(burstEnd[i]), 'left')
        ]
    };
}

var headerX = [623, 707, 735, 782, 818, 845];

var option = {
    backgroundColor: '#fff',
    animation: false,
    grid: [
        { left: 0, top: 0, width: 450, height: 300 },
        { left: 450, top: 0, width: 602, height: 210 },
        { left: 0, top: 300, width: 440, height: 444 },
        { left: 842, top: 335, width: 67, height: 400 }
    ],
    xAxis: [
        { type: 'value', gridIndex: 0, min: 0, max: 450, show: false },
        { type: 'value', gridIndex: 1, min: 450, max: 1052, show: false },
        { type: 'value', gridIndex: 2, min: 0, max: 440, show: false },
        { type: 'value', gridIndex: 3, min: spanStart, max: spanEnd + 1, show: false }
    ],
    yAxis: [
        { type: 'value', gridIndex: 0, min: 0, max: 300, inverse: true, show: false },
        { type: 'value', gridIndex: 1, min: 0, max: 210, inverse: true, show: false },
        { type: 'value', gridIndex: 2, min: 300, max: 744, inverse: true, show: false },
        { type: 'category', gridIndex: 3, data: citedAuthors, inverse: true, show: false }
    ],
    graphic: [
        { type: 'text', style: { x: 2, y: 23, text: 'A', font: '43px "Liberation Sans"', fill: '#000', verticalAlign: 'middle' } },
        { type: 'text', style: { x: 461, y: 26, text: 'B', font: '34px "Liberation Sans"', fill: '#000', verticalAlign: 'middle' } },
        { type: 'text', style: { x: 2, y: 325, text: 'C', font: '44px "Liberation Sans"', fill: '#000', verticalAlign: 'middle' } },
        { type: 'text', style: { x: 460, y: 248, text: 'D', font: '36px "Liberation Sans"', fill: '#000', verticalAlign: 'middle' } },
        { type: 'text', style: { x: 760, y: 293, text: burstTitle, font: 'bold 21px "' + tableFont + '"', fill: '#000', align: 'center', verticalAlign: 'middle' } }
    ].concat(tableHeader.map(function (h, k) {
        return { type: 'text', style: { x: headerX[k], y: 326, text: h, font: 'bold 10.5px "' + tableFont + '"', fill: '#000', verticalAlign: 'middle' } };
    })),
    series: [
        edgeSeries(nodesA, toPairs(hubsA), 0, 1, 0.65, 0.2),
        nodeSeries(asDots(nodesA), 0, 3, sizeScaleA),
        labelSeries(nodesA, 0),
        edgeSeries(nodesB, linksB, 1, 2, 0.9, 0.25),
        nodeSeries(asDots(nodesB), 1, 3, 1),
        labelSeries(nodesB, 1),
        edgeSeries(authorsC, linksC, 2, 1, 0.8, 0.15),
        nodeSeries(dotsC, 2, 3, sizeScaleC),
        nodeSeries(asDots(authorsC), 2, 4, sizeScaleC),
        labelSeries(authorsC, 2),
        {
            type: 'custom', xAxisIndex: 3, yAxisIndex: 3, silent: true,
            renderItem: renderBurst,
            data: citedAuthors.map(function (a, i) { return [burstBegin[i], i]; })
        }
    ]
};

myChart.setOption(option);
</script>
</body>
</html>
